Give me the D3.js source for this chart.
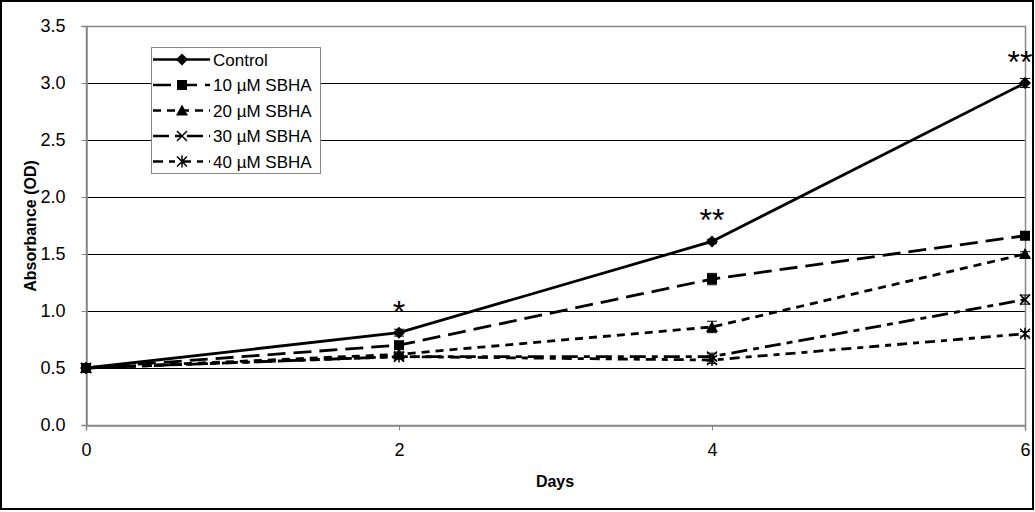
<!DOCTYPE html>
<html>
<head>
<meta charset="utf-8">
<title>Absorbance vs Days</title>
<script src="https://d3js.org/d3.v7.min.js"></script>
<style>
  body { margin: 0; background: #fff; }
  svg { font-family: "Liberation Sans", Arial, sans-serif; }
</style>
</head>
<body>
<svg id="chart" width="1035" height="512"></svg>
<script>
// data
var days = [0, 2, 4, 6];
var seriesNames = ["Control", "10 \u00b5M SBHA", "20 \u00b5M SBHA", "30 \u00b5M SBHA", "40 \u00b5M SBHA"];
var control = [0.50, 0.81, 1.61, 3.00];
var sbha10  = [0.50, 0.70, 1.28, 1.66];
var sbha20  = [0.50, 0.62, 0.86, 1.50];
var sbha30  = [0.50, 0.60, 0.60, 1.10];
var sbha40  = [0.50, 0.60, 0.57, 0.80];
var errControl = [0.01, 0.03, 0.02, 0.04];
var err10 = [0.01, 0.03, 0.05, 0.02];
var err20 = [0.01, 0.02, 0.05, 0.02];
var err30 = [0.01, 0.02, 0.03, 0.04];
var err40 = [0.01, 0.02, 0.03, 0.02];
var yTicks = [0, 0.5, 1.0, 1.5, 2.0, 2.5, 3.0, 3.5];
var xTicks = [0, 2, 4, 6];
var stars = [{day: 2, val: 0.81, txt: "*"}, {day: 4, val: 1.61, txt: "**"}, {day: 6, val: 3.0, txt: "**"}];

var series = [
  {name: seriesNames[0], values: control, err: errControl, dash: null, marker: "diamond"},
  {name: seriesNames[1], values: sbha10, err: err10, dash: "18,8", marker: "square"},
  {name: seriesNames[2], values: sbha20, err: err20, dash: "8,6", marker: "triangle"},
  {name: seriesNames[3], values: sbha30, err: err30, dash: "16,6,6,6", marker: "x"},
  {name: seriesNames[4], values: sbha40, err: err40, dash: "10,6,6,6", marker: "star"}
];

var svg = d3.select("#chart");
var pLeft = 86, pRight = 1025, pTop = 26, pBottom = 425;

var x = d3.scaleLinear().domain([0, 6]).range([pLeft, pRight]);
var y = d3.scaleLinear().domain([0, 3.5]).range([pBottom, pTop]);

// outer frame
svg.append("rect").attr("x", 1).attr("y", 1).attr("width", 1032).attr("height", 508)
  .attr("fill", "#fff").attr("stroke", "#000").attr("stroke-width", 2);

// gridlines
svg.append("g").selectAll("line").data(yTicks.slice(1)).enter().append("line")
  .attr("x1", pLeft).attr("x2", pRight)
  .attr("y1", function(d){ return Math.round(y(d)) + 0.5; })
  .attr("y2", function(d){ return Math.round(y(d)) + 0.5; })
  .attr("stroke", "#000").attr("stroke-width", 1);

// plot border (gray)
svg.append("rect").attr("x", pLeft + 0.5).attr("y", pTop + 0.5)
  .attr("width", pRight - pLeft).attr("height", pBottom - pTop)
  .attr("fill", "none").attr("stroke", "#888").attr("stroke-width", 1.5);

// axes
var yAxis = d3.axisLeft(y).tickValues(yTicks).tickSize(5).tickPadding(16)
  .tickFormat(d3.format(".1f"));
var gy = svg.append("g").attr("transform", "translate(" + (pLeft + 0.5) + ",0)").call(yAxis);
var xAxis = d3.axisBottom(x).tickValues(xTicks).tickSize(5).tickPadding(13)
  .tickFormat(d3.format("d"));
var gx = svg.append("g").attr("transform", "translate(0," + (pBottom + 0.5) + ")").call(xAxis);
[gy, gx].forEach(function(g){
  g.select(".domain").attr("stroke", "#888").attr("stroke-width", 1.5);
  g.selectAll(".tick line").attr("stroke", "#888");
  g.selectAll(".tick text").attr("font-size", 18).attr("fill", "#000")
    .attr("font-family", "'Liberation Sans', Arial, sans-serif");
});

svg.append("text").attr("x", 555).attr("y", 487).attr("text-anchor", "middle")
  .attr("font-weight", "bold").attr("font-size", 16).text("Days");
svg.append("text").attr("transform", "translate(36,226) rotate(-90)")
  .attr("text-anchor", "middle").attr("font-weight", "bold").attr("font-size", 16)
  .text("Absorbance (OD)");

// marker drawing
function drawMarker(g, type, cx, cy) {
  var s = 5;
  if (type === "diamond") {
    g.append("path").attr("d", "M" + cx + "," + (cy - 6) + "L" + (cx + 6) + "," + cy + "L" + cx + "," + (cy + 6) + "L" + (cx - 6) + "," + cy + "Z")
      .attr("fill", "#000");
  } else if (type === "square") {
    g.append("rect").attr("x", cx - s).attr("y", cy - s).attr("width", 2 * s).attr("height", 2 * s).attr("fill", "#000");
  } else if (type === "triangle") {
    g.append("path").attr("d", "M" + cx + "," + (cy - 6) + "L" + (cx + 6) + "," + (cy + 5) + "L" + (cx - 6) + "," + (cy + 5) + "Z")
      .attr("fill", "#000");
  } else if (type === "x" || type === "star") {
    var p = "M" + (cx - s) + "," + (cy - s) + "L" + (cx + s) + "," + (cy + s) +
            "M" + (cx + s) + "," + (cy - s) + "L" + (cx - s) + "," + (cy + s);
    if (type === "star") p += "M" + cx + "," + (cy - 6) + "L" + cx + "," + (cy + 6);
    g.append("path").attr("d", p).attr("stroke", "#000").attr("stroke-width", 1.5).attr("fill", "none");
  }
}

var line = d3.line().x(function(d){ return x(d[0]); }).y(function(d){ return y(d[1]); });

var plot = svg.append("g");
// draw back to front so Control sits on top
series.slice().reverse().forEach(function(s) {
  var pts = days.map(function(d, i){ return [d, s.values[i]]; });
  plot.append("path").datum(pts).attr("d", line)
    .attr("fill", "none").attr("stroke", "#000").attr("stroke-width", 2.8)
    .attr("stroke-dasharray", s.dash);
  var g = plot.append("g");
  days.forEach(function(d, i) {
    var cx = x(d), v = s.values[i], e = s.err[i];
    g.append("line").attr("x1", cx).attr("x2", cx).attr("y1", y(v - e)).attr("y2", y(v + e))
      .attr("stroke", "#000").attr("stroke-width", 1);
    [v - e, v + e].forEach(function(t) {
      g.append("line").attr("x1", cx - 5).attr("x2", cx + 5).attr("y1", y(t)).attr("y2", y(t))
        .attr("stroke", "#000").attr("stroke-width", 1);
    });
    drawMarker(g, s.marker, cx, y(v));
  });
});

// significance stars
svg.append("g").selectAll("text").data(stars).enter().append("text")
  .attr("x", function(d){ return d.day === 6 ? x(d.day) - 5 : x(d.day); })
  .attr("y", function(d){ return y(d.val) - 10; })
  .attr("text-anchor", "middle").attr("font-size", 32)
  .text(function(d){ return d.txt; });

// legend
var lg = svg.append("g").attr("transform", "translate(151,47)");
lg.append("rect").attr("x", 0.5).attr("y", 0.5).attr("width", 169).attr("height", 126)
  .attr("fill", "#fff").attr("stroke", "#888").attr("stroke-width", 1);
series.forEach(function(s, i) {
  var cy = 12.5 + i * 25.5;
  lg.append("line").attr("x1", 2).attr("x2", 59).attr("y1", cy).attr("y2", cy)
    .attr("stroke", "#000").attr("stroke-width", 2.5).attr("stroke-dasharray", s.dash);
  drawMarker(lg, s.marker, 31, cy);
  lg.append("text").attr("x", 62).attr("y", cy + 6).attr("font-size", 17).text(s.name);
});
</script>
</body>
</html>
